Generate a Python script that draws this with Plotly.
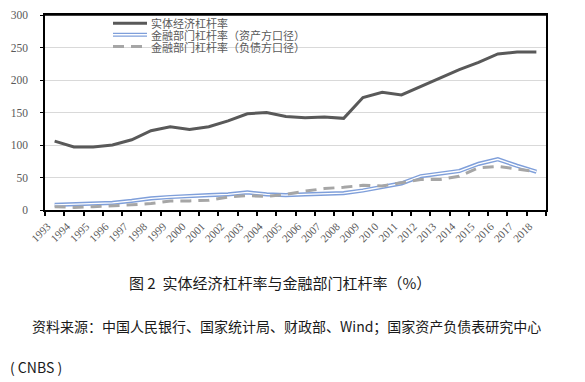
import plotly.graph_objects as go

years = [str(y) for y in range(1993, 2019)]
real_economy = [106, 97, 97, 100, 108, 122, 128, 124, 128, 137, 148, 150, 144, 142, 143, 141,
                173, 181, 177, 190, 204, 216, 227, 240, 243, 243]
fin_asset = [8, 9, 9, 11, 14, 18, 20, 22, 23, 24, 27, 24, 23, 24, 25, 26,
             30, 35, 41, 52, 56, 60, 71, 78, 68, 59]
fin_liab = [5, 4, 5, 6, 8, 10, 14, 14, 15, 20, 22, 21, 24, 29, 33, 35,
            38, 37, 42, 47, 47, 52, 65, 67, 63, 59]

legend_names = ["实体经济杠杆率", "金融部门杠杆率（资产方口径）", "金融部门杠杆率（负债方口径）"]
caption = "图 2  实体经济杠杆率与金融部门杠杆率（%）"
source1 = "资料来源：中国人民银行、国家统计局、财政部、Wind；国家资产负债表研究中心"
source2 = "( CNBS )"

# page has an 8px body margin; target positions below are in screen pixels
OFF = 8
W, H = 585 - OFF, 382 - OFF
L, R, T, B = 45, 546, 14.5, 210  # plot area in screen pixels

def px(x):
    return (x - L) / (R - L)

def py(y):
    return (B - y) / (B - T)

DARK = "#595959"
BLUE = "#7F9FDA"
GRAY = "#A6A6A6"

fig = go.Figure()
fig.add_trace(go.Scatter(x=years, y=fin_asset, mode="lines",
                         line=dict(color=BLUE, width=4.2), showlegend=False))
fig.add_trace(go.Scatter(x=years, y=fin_asset, mode="lines",
                         line=dict(color="white", width=1.3), showlegend=False))
fig.add_trace(go.Scatter(x=years, y=fin_liab, mode="lines",
                         line=dict(color=GRAY, width=3, dash="11px,7px"), showlegend=False))
fig.add_trace(go.Scatter(x=years, y=real_economy, mode="lines",
                         line=dict(color=DARK, width=3), showlegend=False))

shapes = []
annotations = []
rows = [22.7, 34.3, 46.1]
x0, x1, xt = 113, 147, 150
shapes.append(dict(type="line", xref="paper", yref="paper", x0=px(x0), x1=px(x1),
                   y0=py(rows[0]), y1=py(rows[0]), line=dict(color=DARK, width=3)))
shapes.append(dict(type="line", xref="paper", yref="paper", x0=px(x0), x1=px(x1),
                   y0=py(rows[1]), y1=py(rows[1]), line=dict(color=BLUE, width=4.2)))
shapes.append(dict(type="line", xref="paper", yref="paper", x0=px(x0), x1=px(x1),
                   y0=py(rows[1]), y1=py(rows[1]), line=dict(color="white", width=1.3)))
shapes.append(dict(type="line", xref="paper", yref="paper", x0=px(x0), x1=px(x1),
                   y0=py(rows[2]), y1=py(rows[2]), line=dict(color=GRAY, width=3, dash="11px,7px")))
for name, r in zip(legend_names, rows):
    annotations.append(dict(text=name, xref="paper", yref="paper", x=px(xt), y=py(r),
                            xanchor="left", yanchor="middle", showarrow=False, borderpad=0,
                            font=dict(family="Noto Sans CJK SC", size=11, color=DARK)))

annotations.append(dict(text=caption, xref="paper", yref="paper", x=px(280), y=py(283),
                        xanchor="center", yanchor="middle", showarrow=False,
                        font=dict(family="Noto Sans CJK SC", size=15, color="#1A1A1A")))
annotations.append(dict(text=source1, xref="paper", yref="paper", x=px(30), y=py(326),
                        xanchor="left", yanchor="middle", showarrow=False,
                        font=dict(family="Noto Sans CJK SC", size=14, color="#1A1A1A")))
annotations.append(dict(text=source2, xref="paper", yref="paper", x=px(8), y=py(367),
                        xanchor="left", yanchor="middle", showarrow=False,
                        font=dict(family="Noto Sans CJK SC", size=14, color="#1A1A1A")))

# top border of the plot box
shapes.append(dict(type="line", xref="paper", yref="paper", x0=0, x1=1, y0=1, y1=1,
                   line=dict(color="black", width=1.5), layer="above"))

fig.update_layout(
    width=W, height=H,
    margin=dict(l=L - OFF, r=W - (R - OFF), t=T - OFF, b=H - (B - OFF), pad=0, autoexpand=False),
    paper_bgcolor="white", plot_bgcolor="white",
    shapes=shapes, annotations=annotations,
    showlegend=False,
)
fig.update_xaxes(type="category", tickson="boundaries", ticks="outside", ticklen=4,
                 tickcolor="black", tickwidth=1.5, showline=True, linecolor="black",
                 linewidth=1.5, mirror=True, showgrid=False, tickangle=-45,
                 automargin=False, ticklabelstandoff=4, ticklabelshift=-7,
                 ticklabeloverflow="allow",
                 tickfont=dict(family="Liberation Serif", size=11, color=DARK),
                 range=[-0.5, len(years) - 0.5])
fig.update_yaxes(range=[0, 300], dtick=50, ticks="outside", ticklen=3, tickcolor="black",
                 showline=True, linecolor="black", linewidth=1.5, mirror=True,
                 showgrid=True, gridcolor="#D9D9D9", gridwidth=1, zeroline=False,
                 automargin=False, ticklabelstandoff=10, ticklabeloverflow="allow",
                 tickfont=dict(family="Liberation Serif", size=11.5, color=DARK))

fig.write_html("out.html")
